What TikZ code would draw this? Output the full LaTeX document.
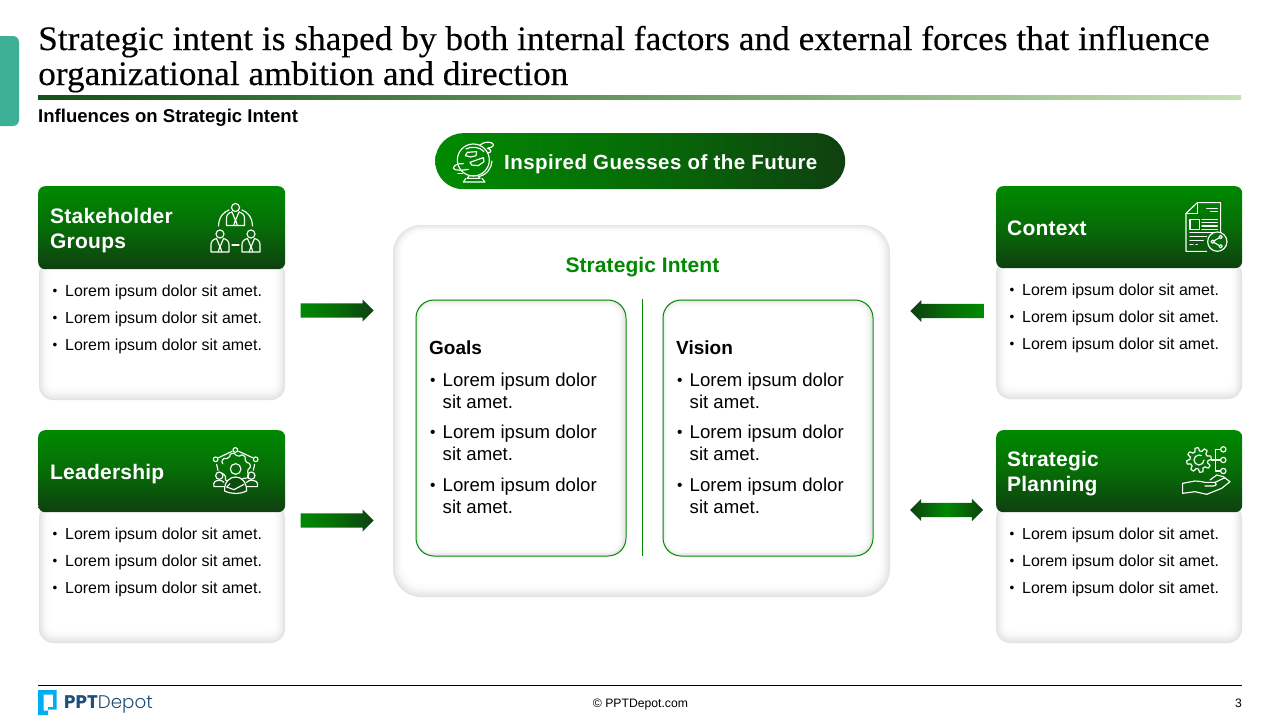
\documentclass[tikz,border=0pt]{standalone}
\usepackage{fontspec}
\usetikzlibrary{shapes.arrows,calc}
\setmainfont{Liberation Sans}
\newfontfamily\titlefont[FakeStretch=1.03,FakeBold=0.25]{Liberation Serif}
\newfontfamily\logofont{Poppins}
\newfontfamily\logolight{Poppins Light}
\definecolor{gtop}{HTML}{008A00}
\definecolor{gmid}{HTML}{066C07}
\definecolor{gbot}{HTML}{0F4010}
\definecolor{teal}{HTML}{3DB095}
\definecolor{rulel}{HTML}{145218}
\definecolor{rulem}{HTML}{6C9966}
\definecolor{ruler}{HTML}{C5E0B4}
\definecolor{logob}{HTML}{00AEEF}
\definecolor{logot}{HTML}{1F4E79}
\newcommand{\fs}[1]{\fontsize{#1pt}{#1pt}\selectfont}
\newcommand{\softcard}[6]{%
  \foreach \i in {0,...,13}{%
    \pgfmathsetmacro{\v}{11*(1-\i/13)^2}
    \pgfmathsetmacro{\rr}{max(#5-\i*0.8,2)}
    \fill[black!\v!white,rounded corners=\rr pt]
      ({#1+\i*0.9},{#2+\i*0.6}) rectangle ({#3-\i*0.9},{#4-\i*1.1});
  }
  \coordinate (#6) at ({(#1+#3)/2},{(#2+#4)/2});
}
\newcommand{\innerbox}[5]{%
  \foreach \i in {0,...,8}{%
    \pgfmathsetmacro{\v}{11*(1-\i/8)^2}
    \pgfmathsetmacro{\rr}{max(18-\i,3)}
    \fill[black!\v!white,rounded corners=\rr pt] ({#1+\i*0.7},{#2+\i}) rectangle ({#3-\i},{#4-\i*0.7});
  }
  \node[draw=gtop,line width=1pt,rounded corners=18pt,anchor=north west,minimum width={#3-#1},minimum height={#4-#2},inner sep=0pt] (#5) at (#1,#2) {};
}
\newcommand{\loremline}[2]{%
  \node[bullettext,font=\fs{13.5}] at (#1+0.4,#2-0.8) {•};
  \node[bullettext] at ({#1+13},#2) {Lorem ipsum dolor sit amet.};
}
\newcommand{\loremrows}[2]{%
  \loremline{#1}{#2}
  \loremline{#1}{#2+27}
  \loremline{#1}{#2+54}
}
\newcommand{\bigbullet}[2]{%
  \node[bigtext,font=\fs{15.5}] at (#1+0.4,#2-1) {•};
  \node[bigtext] at ({#1+13},#2) {Lorem ipsum dolor};
  \node[bigtext] at ({#1+13},#2+22.5) {sit amet.};
}
\newcommand{\person}[2]{%
  \begin{scope}[shift={(#1,#2)}]
    \draw (0,0) circle (4);
    \draw (-3.5,4.5) .. controls (-7,5.5) and (-9,7) .. (-9,11) -- (-9,18) -- (9,18) -- (9,11) .. controls (9,7) and (7,5.5) .. (3.5,4.5);
    \draw (-3.5,4.5) -- (0,13) -- (3.5,4.5) (-1.8,18) -- (0,12) -- (1.8,18);
  \end{scope}
}
\tikzset{
  icon/.style={draw=white,line width=1.15pt,line join=round,line cap=round},
  hdr/.style={anchor=north west,rounded corners=7pt,top color=gtop,bottom color=gbot,middle color=gmid,inner sep=0pt},
  hdrtext/.style={anchor=base west,inner sep=0pt,text=white,font=\fs{21}\bfseries\addfontfeatures{LetterSpace=1.1}},
  bullettext/.style={anchor=base west,inner sep=0pt,font=\fs{15.95}},
  bigtext/.style={anchor=base west,inner sep=0pt,font=\fs{18.6}},
  inhead/.style={anchor=base west,inner sep=0pt,font=\fs{19}\bfseries},
  rarrow/.style={single arrow,single arrow head extend=4pt,minimum width=22pt,minimum height=73pt,inner xsep=0pt,inner ysep=7pt,
    left color=gtop,right color=gbot,middle color=gmid},
  larrow/.style={rarrow,shape border rotate=180,left color=gbot,right color=gtop,middle color=gmid},
  darrow/.style={double arrow,double arrow head extend=4pt,minimum width=22pt,minimum height=73pt,inner xsep=0pt,inner ysep=7pt,
    left color=gbot,right color=gbot,middle color=gtop},
}
\begin{document}
\begin{tikzpicture}[x=1pt,y=-1pt]
\useasboundingbox (0,0) rectangle (1280,720);
\fill[white] (0,0) rectangle (1280,720);

% tab
\fill[teal,rounded corners=6pt] (-12,36) rectangle (19,126);

% title
\node[anchor=base west,inner sep=0pt,font=\titlefont\fs{34.3}] (t1) at (38,50) {Strategic intent is shaped by both internal factors and external forces that influence};
\node[anchor=base west,inner sep=0pt,font=\titlefont\fs{34.3}] (t2) at (38,85) {organizational ambition and direction};
\node[anchor=north west,inner sep=0pt,minimum width=1203pt,minimum height=4pt,left color=rulel,right color=ruler,middle color=rulem] (rule) at (38,95) {};
\node[anchor=base west,inner sep=0pt,font=\fs{18.55}\bfseries] (sub) at (38,122) {Influences on Strategic Intent};

% pill
\node[anchor=north west,minimum width=410pt,minimum height=56pt,rounded corners=28pt,inner sep=0pt,left color=gtop,right color=gbot,middle color=gmid] (pill) at (435,133) {};
\node[anchor=base west,inner sep=0pt,text=white,font=\fs{20.5}\bfseries\addfontfeatures{LetterSpace=2.2}] (pilltext) at (504,169.5) {Inspired Guesses of the Future};
% globe icon
\begin{scope}[shift={(430,125)},x=0.3333pt,y=-0.3333pt,icon]
  \draw (130,105) circle (48);
  \draw (108,72) .. controls (120,64) and (150,64) .. (162,80);
  \draw (145,155) .. controls (170,150) and (185,130) .. (186,108);
  \draw (112,82) -- (140,80) -- (138,92) -- (122,96) -- (106,92) -- cycle;
  \draw (120,112) -- (160,98) -- (162,110) -- (145,122) -- (125,120) -- cycle;
  \draw (150,60) .. controls (160,50) and (185,48) .. (190,58) .. controls (192,66) and (180,68) .. (172,70) .. controls (186,72) and (186,84) .. (172,84);
  \draw (100,116) .. controls (84,114) and (70,122) .. (70,130) .. controls (74,138) and (100,136) .. (115,133);
  \draw (84,146) -- (98,146);
  \draw (118,152) -- (112,160) -- (150,160) -- (144,152) -- cycle;
  \draw (108,160) -- (100,171) -- (165,171) -- (156,160);
\end{scope}

% cards
\softcard{39}{260}{285}{400}{14}{c1}
\softcard{39}{504}{285}{643}{14}{c2}
\softcard{996}{260}{1242}{399}{14}{c3}
\softcard{996}{504}{1242}{643}{14}{c4}
\node[hdr,minimum width=247pt,minimum height=83pt] (h1) at (38,186) {};
\node[hdr,minimum width=247pt,minimum height=82pt] (h2) at (38,430) {};
\node[hdr,minimum width=246pt,minimum height=82pt] (h3) at (996,186) {};
\node[hdr,minimum width=246pt,minimum height=82pt] (h4) at (996,430) {};
\node[hdrtext] (h1a) at (50,223) {Stakeholder};
\node[hdrtext] (h1b) at (50,248) {Groups};
\node[hdrtext] (h2a) at (50,479) {Leadership};
\node[hdrtext] (h3a) at (1007,235) {Context};
\node[hdrtext] (h4a) at (1007,466) {Strategic};
\node[hdrtext] (h4b) at (1007,491) {Planning};

\loremrows{52}{296}
\loremrows{52}{539}
\loremrows{1009}{295}
\loremrows{1009}{539}

% stakeholder icon
\begin{scope}[icon]
  \person{235.5}{207.5}
  \person{220}{234}
  \person{251}{234}
  \draw (218.5,226) .. controls (219,216) and (224,212) .. (229,210);
  \draw (252.5,226) .. controls (252,216) and (247,212) .. (242,210);
  \draw (232,245) -- (239,245);
\end{scope}

% context icon
\begin{scope}[shift={(990,180)},x=0.3333pt,y=-0.3333pt,icon]
  \draw (650,214) -- (588,214) -- (588,100) -- (622,68) -- (692,68) -- (692,158);
  \draw (588,100) -- (622,100) -- (622,68);
  \draw (650,85) -- (682,85) (662,95) -- (682,95);
  \draw (600,118) rectangle (628,148);
  \draw (636,118) -- (682,118) (636,128) -- (682,128) (636,138) -- (682,138) (636,148) -- (682,148);
  \draw (600,158) -- (682,158) (600,170) -- (650,170) (600,182) -- (640,182);
  \draw[dash pattern=on 3pt off 3pt] (600,193) -- (622,193);
  \draw[fill=gmid] (682,185) circle (29);
  \draw (668,185) -- (692,171) (668,185) -- (692,199);
  \draw[fill=gmid] (668,185) circle (5) (692,171) circle (5) (692,199) circle (5);
\end{scope}

% leadership icon
\begin{scope}[shift={(30,425)},x=0.3333pt,y=-0.3333pt,icon]
  \draw (616,75) circle (7) (557,103) circle (7) (677,103) circle (7);
  \draw (566,98) -- (606,79) (626,79) -- (668,98);
  \draw (560,118) -- (564,136) (674,118) -- (670,136);
  \draw plot[domain=200:520,samples=65,variable=\t] ({616+(42+3.5*max(-1,min(1,2*sin(8*\t))))*cos(\t)},{130-(42+3.5*max(-1,min(1,2*sin(8*\t))))*sin(\t)});
  \draw[fill=gmid] (617,132) circle (16);
  \draw (568,152) circle (11) (664,152) circle (11);
  \draw (552,185) .. controls (548,170) and (558,166) .. (568,166) .. controls (574,166) and (578,168) .. (582,172) (552,185) -- (586,185);
  \draw (682,185) .. controls (686,170) and (676,166) .. (664,166) .. controls (658,166) and (654,168) .. (650,172) (682,185) -- (650,185);
  \draw[fill=gbot!70!gmid] (584,198) .. controls (582,170) and (600,156) .. (617,156) .. controls (634,156) and (650,170) .. (650,198) .. controls (630,208) and (605,208) .. (584,198) -- cycle;
  \draw (590,186) -- (612,194) -- (642,178) (600,176) -- (590,186);
\end{scope}

% planning icon
\begin{scope}[shift={(900,425)},x=0.3333pt,y=-0.3333pt,icon]
  \draw plot[domain=0:360,samples=97,variable=\t] ({897+(32+5*max(-1,min(1,2*sin(8*\t))))*cos(\t)},{105-(32+5*max(-1,min(1,2*sin(8*\t))))*sin(\t)}) -- cycle;
  \draw (912,105) arc (0:300:15);
  \draw (970,73) circle (8) (970,105) circle (8) (970,138) circle (8);
  \draw (934,105) -- (962,105) (947,73) -- (947,138) (947,73) -- (962,73) (947,138) -- (962,138);
  \draw (848,175) -- (885,168) .. controls (895,166) and (905,172) .. (915,172) -- (945,172) .. controls (952,175) and (950,182) .. (940,183) -- (915,183);
  \draw (930,165) -- (950,150) -- (970,155) -- (990,170) -- (965,190) -- (920,208) -- (885,200) -- (848,205) -- (848,175);
  \draw (945,172) -- (975,158);
\end{scope}

% centre panel
\softcard{393}{225}{890}{597}{28}{panel}
\node[anchor=base,inner sep=0pt,text=gtop,font=\fs{21}\bfseries\addfontfeatures{LetterSpace=0.3}] (st) at (642.5,272) {Strategic Intent};
\innerbox{415.5}{299.5}{625.5}{555.5}{goals}
\innerbox{662.5}{299.5}{872.5}{555.5}{vision}
\coordinate (da) at (642.5,299);
\coordinate (db) at (642.5,556);
\draw[gtop,line width=1pt] (da) -- (db);
\node[inhead] (gh) at (429,354.5) {Goals};
\node[inhead] (vh) at (676,354.5) {Vision};
\bigbullet{429.5}{386}
\bigbullet{429.5}{438}
\bigbullet{429.5}{491}
\bigbullet{676.5}{386}
\bigbullet{676.5}{438}
\bigbullet{676.5}{491}

% block arrows
\node[rarrow,anchor=tip] (a1) at (374,310.5) {};
\node[rarrow,anchor=tip] (a2) at (374,520.5) {};
\node[larrow,anchor=tip] (a3) at (910,311) {};
\node[darrow] (a4) at (946.5,510) {};

% footer
\coordinate (fa) at (38,685.5);
\coordinate (fb) at (1242,685.5);
\draw[black,line width=1pt] (fa) -- (fb);
\node[anchor=base,inner sep=0pt,font=\fs{12.2}] (copy) at (640.5,707.5) {© PPTDepot.com};
\node[anchor=base,inner sep=0pt,font=\fs{12.2}] (pageno) at (1238.5,707.5) {3};
\fill[logob,even odd rule] (38,690) -- (56.5,690) -- (56.5,709.5) -- (48,709.5) -- (48,715) -- (38,715) -- cycle
  (43.5,694.5) -- (53,694.5) -- (53,707) -- (48,707) -- (48,710.5) -- (43.5,710.5) -- cycle;
\node[anchor=base west,inner sep=0pt,text=logot,font=\logofont\fs{18.3}] (logo) at (64,708) {\textbf{PPT}{\logolight Depot}};
\end{tikzpicture}
\end{document}
